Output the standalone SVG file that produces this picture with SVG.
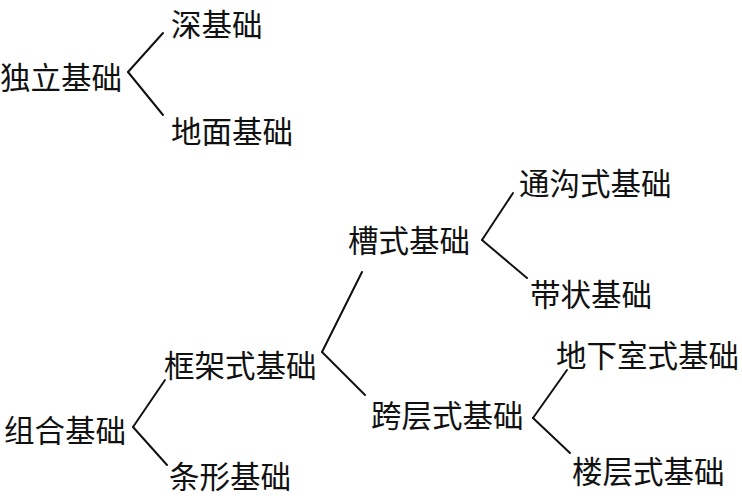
<svg xmlns="http://www.w3.org/2000/svg" width="742" height="496" viewBox="0 0 742 496">
<style>
text{font-family:"Noto Sans CJK SC","Noto Sans CJK JP",sans-serif;font-size:30.5px;fill:#111;dominant-baseline:central}
.c line{stroke:#111;stroke-width:2;fill:none;stroke-linecap:round}
</style>
<rect width="742" height="496" fill="#fff"/>
<g id="n-duli"><text x="0" y="76">独立基础</text></g>
<g id="n-shen"><text x="171" y="23">深基础</text></g>
<g id="n-dimian"><text x="171" y="130">地面基础</text></g>
<g id="n-cao"><text x="348" y="239">槽式基础</text></g>
<g id="n-tonggou"><text x="519" y="182">通沟式基础</text></g>
<g id="n-daizhuang"><text x="530" y="293">带状基础</text></g>
<g id="n-kuangjia"><text x="164" y="364">框架式基础</text></g>
<g id="n-kuaceng"><text x="371" y="414">跨层式基础</text></g>
<g id="n-dixiashi"><text x="556" y="354">地下室式基础</text></g>
<g id="n-louceng"><text x="572" y="470">楼层式基础</text></g>
<g id="n-zuhe"><text x="4" y="429">组合基础</text></g>
<g id="n-tiaoxing"><text x="169" y="475">条形基础</text></g>
<g id="connectors" class="c">
<line x1="163" y1="33" x2="128" y2="72"/>
<line x1="128" y1="72" x2="163" y2="115"/>
<line x1="513" y1="193" x2="482" y2="240"/>
<line x1="482" y1="240" x2="527" y2="278"/>
<line x1="362" y1="272" x2="322" y2="352"/>
<line x1="322" y1="352" x2="365" y2="395"/>
<line x1="567" y1="370" x2="533" y2="418"/>
<line x1="533" y1="418" x2="570" y2="453"/>
<line x1="165" y1="380" x2="133" y2="427"/>
<line x1="133" y1="427" x2="167" y2="465"/>
</g>
</svg>
